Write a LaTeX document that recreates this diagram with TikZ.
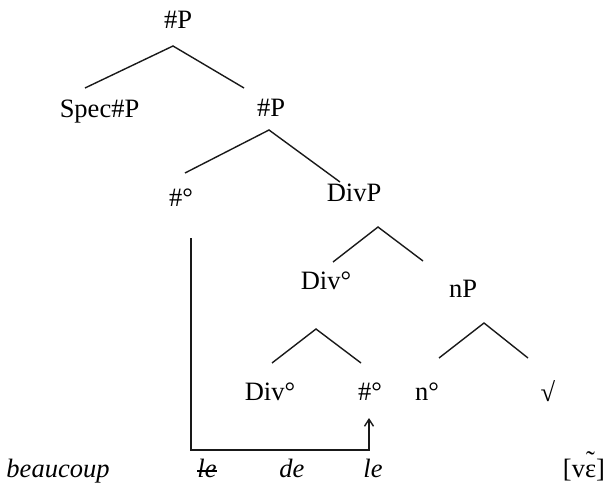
\documentclass[tikz,border=0pt]{standalone}
\usepackage{fontspec}
\setmainfont{Liberation Serif}
\usetikzlibrary{arrows.meta}
% epsilon carrying a raised nasal tilde
\newcommand\nasaleps{\ooalign{ε\cr\hidewidth\raisebox{0.3em}{˜}\hidewidth\cr}}
% a word with a line through it (deleted copy)
\newcommand\struckword[1]{\rlap{\rule[0.2em]{0.74em}{0.06em}}#1}
\begin{document}
\begin{tikzpicture}[x=1pt,y=-1pt,
  lbl/.style={anchor=base,inner sep=0pt,font=\fontsize{26.5}{30}\selectfont},
  word/.style={anchor=base,inner sep=0pt,font=\fontsize{26.5}{30}\selectfont\itshape},
  branch/.style={line width=1.4pt,black!90},
  move/.style={line width=1.4pt,black!90,-{Straight Barb[length=7pt,width=9pt]}}]
\useasboundingbox (0,0) rectangle (608,484);

% category labels
\node[lbl] (hp1)  at (178,29)  {\#P};
\node[lbl] (spec) at (99.5,118) {Spec\#P};
\node[lbl] (hp2)  at (271,117) {\#P};
\node[lbl] (h1)   at (181,206) {\#°};
\node[lbl] (divp) at (354,201) {DivP};
\node[lbl] (div1) at (326,289) {Div°};
\node[lbl] (np)   at (463,297) {nP};
\node[lbl] (div2) at (270,400) {Div°};
\node[lbl] (h2)   at (370,400) {\#°};
\node[lbl] (n0)   at (427,400) {n°};
\node[lbl] (rt)   at (548,401) {√};

% spelled-out string
\node[word] (w1) at (58,477)  {beaucoup};
\node[word] (w2) at (207,477) {\struckword{le}};
\node[word] (w3) at (292,477) {de};
\node[word] (w4) at (373,477) {le};
\node[lbl]  (w5) at (584,477) {[v\nasaleps]};

% branch points and branch ends
\coordinate (a1) at (173,46);  \coordinate (a1l) at (85,88);   \coordinate (a1r) at (244,88);
\coordinate (a2) at (269,130); \coordinate (a2l) at (185,173); \coordinate (a2r) at (340,182);
\coordinate (a3) at (378,227); \coordinate (a3l) at (333,262); \coordinate (a3r) at (423,261);
\coordinate (a4) at (316,329); \coordinate (a4l) at (272,363); \coordinate (a4r) at (361,363);
\coordinate (a5) at (484,323); \coordinate (a5l) at (439,358); \coordinate (a5r) at (528,358);

\draw[branch] (a1l) -- (a1) -- (a1r);
\draw[branch] (a2l) -- (a2) -- (a2r);
\draw[branch] (a3l) -- (a3) -- (a3r);
\draw[branch] (a4l) -- (a4) -- (a4r);
\draw[branch] (a5l) -- (a5) -- (a5r);

% head movement of # into Div
\coordinate (trace) at (191,238);
\coordinate (land)  at (369,418);
\coordinate (floor) at (0,450);
\draw[move] (trace) -- (trace |- floor) -- (land |- floor) -- (land);
\end{tikzpicture}
\end{document}
